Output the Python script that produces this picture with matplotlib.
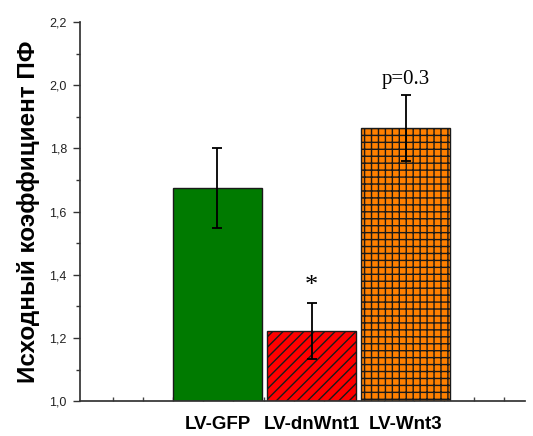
import numpy as np
import matplotlib
matplotlib.use('Agg')
import matplotlib.pyplot as plt

# data
groups = ['LV-GFP', 'LV-dnWnt1', 'LV-Wnt3']
means = [1.674, 1.222, 1.864]
errors = [0.127, 0.088, 0.105]
notes = ['', '*', 'p=0.3']
note_sizes = [12, 15.2, 12]

colors = ['#007a00', '#ff0000', '#ff8000']
hatches = ['', '////', '+++']

# dpi 125 so the hatch spacing comes out near the original (~7 px)
DPI = 125
plt.rcParams['font.family'] = ['Liberation Sans', 'DejaVu Sans']
plt.rcParams['hatch.linewidth'] = 0.8

fig = plt.figure(figsize=(533 / DPI, 436 / DPI), dpi=DPI)
ax = fig.add_axes([0.150, 0.080, 0.835, 0.8695])

x = np.arange(1, len(groups) + 1)
for xi, m, e, c, h in zip(x, means, errors, colors, hatches):
    ax.bar(xi, m - 1.0, bottom=1.0, width=0.95, color=c, edgecolor='#1a1a1a',
           linewidth=0.8, hatch=h, zorder=2)
    ax.errorbar(xi, m, yerr=e, fmt='none', ecolor='black', elinewidth=1.05,
                capsize=2.8, capthick=1.05, zorder=3)

for xi, m, e, n, fs in zip(x, means, errors, notes, note_sizes):
    if n:
        ax.text(xi, m + e + 0.02, n, ha='center', va='bottom', fontsize=fs,
                family=['Liberation Serif', 'DejaVu Serif'])

ax.set_xlim(-0.463, 4.271)
ax.set_ylim(1.0, 2.2)

ax.set_yticks(np.arange(1.0, 2.21, 0.2))
ax.set_yticklabels([f'{v:.1f}'.replace('.', ',') for v in np.arange(1.0, 2.21, 0.2)])
ax.set_yticks(np.arange(1.1, 2.2, 0.2), minor=True)
ax.tick_params(axis='y', which='major', direction='out', length=4, width=0.8,
               labelsize=7.2, colors='#333333', labelcolor='#222222')
ax.tick_params(axis='y', which='minor', direction='out', length=2.4, width=0.8, colors='#333333')

# thin inward ticks along the x axis
ax.set_xticks(x)
ax.set_xticklabels(groups, fontsize=10.8, fontweight='bold')
ax.tick_params(axis='x', which='major', length=0, pad=8.8)
ax.set_xticks(np.arange(-0.11, 4.27, 0.32), minor=True)
ax.tick_params(axis='x', which='minor', direction='in', length=2.4, width=0.8, colors='#444444')

for s in ['top', 'right']:
    ax.spines[s].set_visible(False)
for s in ['left', 'bottom']:
    ax.spines[s].set_color('#333333')
    ax.spines[s].set_linewidth(1.0)

ax.set_ylabel('Исходный коэффициент ПФ', fontsize=14, fontweight='bold', labelpad=5.6)

fig.savefig('out.png', dpi=DPI)
